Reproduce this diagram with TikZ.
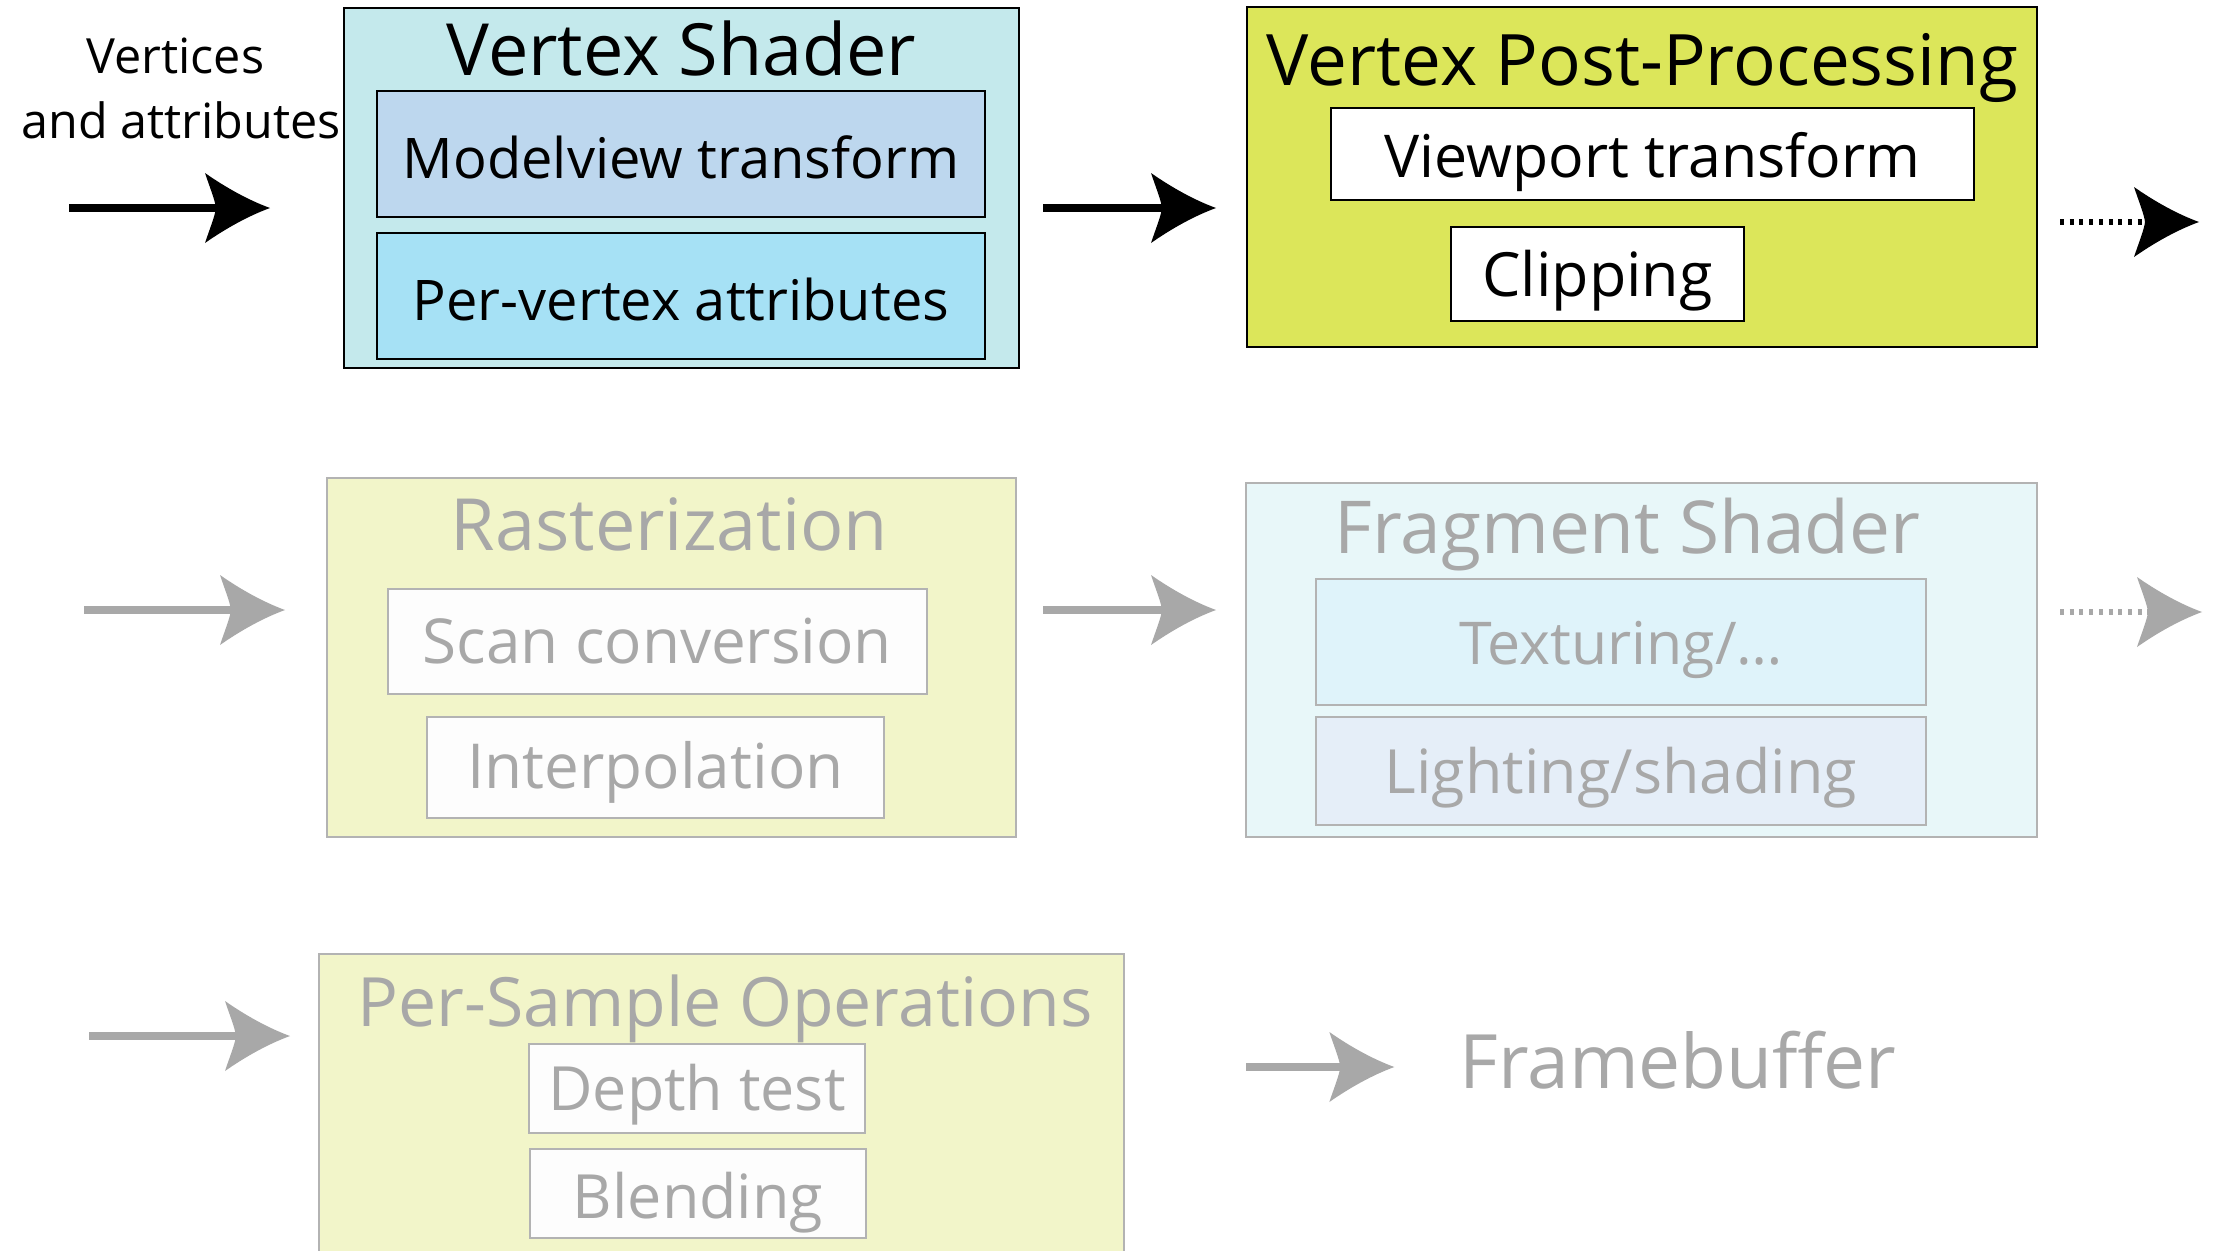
\documentclass[tikz,border=0pt]{standalone}
\usepackage{fontspec}
\setmainfont{Open Sans}
\usetikzlibrary{arrows.meta}
\definecolor{vsfill}{HTML}{C4E9EC}
\definecolor{mvfill}{HTML}{BDD7EE}
\definecolor{pvfill}{HTML}{A6E1F5}
\definecolor{vppfill}{HTML}{DCE65A}
\definecolor{rastfill}{HTML}{F2F5C9}
\definecolor{fragfill}{HTML}{E8F7F9}
\definecolor{texfill}{HTML}{DFF3FA}
\definecolor{litfill}{HTML}{E5EEF8}
\definecolor{wfill}{HTML}{FDFDFD}
\definecolor{boxgray}{HTML}{B3B3B3}
\definecolor{txtgray}{HTML}{A8A8A8}
\pgfdeclarearrow{
  name = Swoosh,
  setup code = {
    \pgfarrowssettipend{0pt}
    \pgfarrowssetlineend{-50pt}
    \pgfarrowssetvisualbackend{-65pt}
    \pgfarrowssetbackend{-65pt}
    \pgfarrowsupperhullpoint{-65pt}{35pt}
    \pgfarrowsupperhullpoint{0pt}{0pt}
  },
  drawing code = {
    \pgfpathmoveto{\pgfpointorigin}
    \pgfpathcurveto{\pgfpoint{-22pt}{8pt}}{\pgfpoint{-45pt}{21pt}}{\pgfpoint{-65pt}{35pt}}
    \pgfpathcurveto{\pgfpoint{-60pt}{20pt}}{\pgfpoint{-55pt}{8pt}}{\pgfpoint{-54pt}{0pt}}
    \pgfpathcurveto{\pgfpoint{-55pt}{-8pt}}{\pgfpoint{-60pt}{-20pt}}{\pgfpoint{-65pt}{-35pt}}
    \pgfpathcurveto{\pgfpoint{-45pt}{-21pt}}{\pgfpoint{-22pt}{-8pt}}{\pgfpointorigin}
    \pgfpathclose
    \pgfusepathqfill
  }
}
\begin{document}
\begin{tikzpicture}[x=1pt,y=-1pt,
  box/.style={rectangle, line width=2pt, inner sep=0pt},
  blk/.style={box, draw=black, text=black},
  gry/.style={box, draw=boxgray, text=txtgray},
  inbox/.style={font=\fontsize{60}{70}\selectfont, text height=44pt, text depth=0pt},
  ttl/.style={inner sep=0pt, anchor=base, font=\fontsize{72}{80}\selectfont},
  lbl/.style={inner sep=0pt, anchor=base, font=\fontsize{48.5}{56}\selectfont},
  arr/.style={line width=8.5pt, -Swoosh},
  darr/.style={line width=6.5pt, -Swoosh, dash pattern=on 4pt off 5.7pt},
  blkarr/.style={black},
  gryarr/.style={txtgray}
]
\path[use as bounding box] (0,0) rectangle (2216,1250);
\clip (0,0) rectangle (2216,1250);
\fill[white] (0,0) rectangle (2216,1250);

% ---------- Row 1 ----------
\node[lbl] (vert1) at (175.5,73) {Vertices};
\node[lbl] (vert2) at (181,138) {and attributes};

\node[blk, fill=vsfill, minimum width=675pt, minimum height=360pt] (vs) at (681.5,188) {};
\node[ttl, text=black] (vst) at (681.5,75) {Vertex Shader};
\node[blk, inbox, fill=mvfill, minimum width=608pt, minimum height=126pt, font=\fontsize{56}{66}\selectfont, text height=48pt] (mv) at (681,154) {Modelview transform};
\node[blk, inbox, fill=pvfill, minimum width=608pt, minimum height=126pt, font=\fontsize{56}{66}\selectfont, text height=48pt] (pv) at (681,296) {Per-vertex attributes};

\node[blk, fill=vppfill, minimum width=790pt, minimum height=340pt] (vpp) at (1642,177) {};
\node[ttl, text=black, font=\fontsize{71}{80}\selectfont] (vppt) at (1642.5,85) {Vertex Post-Processing};
\node[blk, inbox, fill=white, minimum width=643pt, minimum height=92pt, font=\fontsize{59}{66}\selectfont, text height=46pt] (vp) at (1652.5,154) {Viewport transform};
\node[blk, inbox, fill=white, minimum width=293pt, minimum height=94pt, font=\fontsize{61}{66}\selectfont] (cl) at (1597.5,274) {Clipping};

\coordinate (in1) at (69,208);
\draw[arr, blkarr] (in1) -- ([xshift=-73pt]vs.west |- in1);
\draw[arr, blkarr] ([xshift=23pt]vs.east |- in1) -- ([xshift=-30pt]vpp.west |- in1);
\coordinate (out1) at (2199,222);
\draw[darr, blkarr] ([xshift=22pt]vpp.east |- out1) -- (out1);

% ---------- Row 2 ----------
\node[gry, fill=rastfill, minimum width=689pt, minimum height=359pt] (ra) at (671.5,657.5) {};
\node[ttl, text=txtgray] (rat) at (669.5,550) {Rasterization};
\node[gry, inbox, fill=wfill, minimum width=539pt, minimum height=105pt, font=\fontsize{62}{70}\selectfont] (sc) at (657.5,641.5) {Scan conversion};
\node[gry, inbox, fill=wfill, minimum width=457pt, minimum height=101pt, font=\fontsize{62}{70}\selectfont, text height=42pt] (ip) at (655.5,767.5) {Interpolation};

\node[gry, fill=fragfill, minimum width=791pt, minimum height=354pt] (fs) at (1641.5,660) {};
\node[ttl, text=txtgray, font=\fontsize{73}{80}\selectfont] (fst) at (1627.5,553) {Fragment Shader};
\node[gry, inbox, fill=texfill, minimum width=610pt, minimum height=126pt, font=\fontsize{59}{70}\selectfont] (tx) at (1621,642) {Texturing/…};
\node[gry, inbox, fill=litfill, minimum width=610pt, minimum height=108pt, font=\fontsize{61}{70}\selectfont] (li) at (1621,771) {Lighting/shading};

\coordinate (in2) at (84,610);
\draw[arr, gryarr] (in2) -- ([xshift=-41pt]ra.west |- in2);
\draw[arr, gryarr] ([xshift=26pt]ra.east |- in2) -- ([xshift=-29pt]fs.west |- in2);
\coordinate (out2) at (2202,612);
\draw[darr, gryarr] ([xshift=22pt]fs.east |- out2) -- (out2);

% ---------- Row 3 ----------
\node[gry, fill=rastfill, minimum width=805pt, minimum height=308pt] (ps) at (721.5,1108) {};
\node[ttl, text=txtgray, font=\fontsize{68}{76}\selectfont] (pst) at (725,1026) {Per-Sample Operations};
\node[gry, inbox, fill=wfill, minimum width=336pt, minimum height=89pt, font=\fontsize{61}{70}\selectfont] (dt) at (697,1088.5) {Depth test};
\node[gry, inbox, fill=wfill, minimum width=336pt, minimum height=89pt, font=\fontsize{61}{70}\selectfont, text height=49pt] (bl) at (698,1193.5) {Blending};

\node[ttl, text=txtgray, font=\fontsize{75}{80}\selectfont] (fb) at (1678,1088) {Framebuffer};

\coordinate (in3) at (89,1036);
\draw[arr, gryarr] (in3) -- ([xshift=-28pt]ps.west |- in3);
\coordinate (fbin) at (1246,1067);
\draw[arr, gryarr] (fbin) -- ([xshift=-65pt]fb.west |- fbin);
\end{tikzpicture}
\end{document}
